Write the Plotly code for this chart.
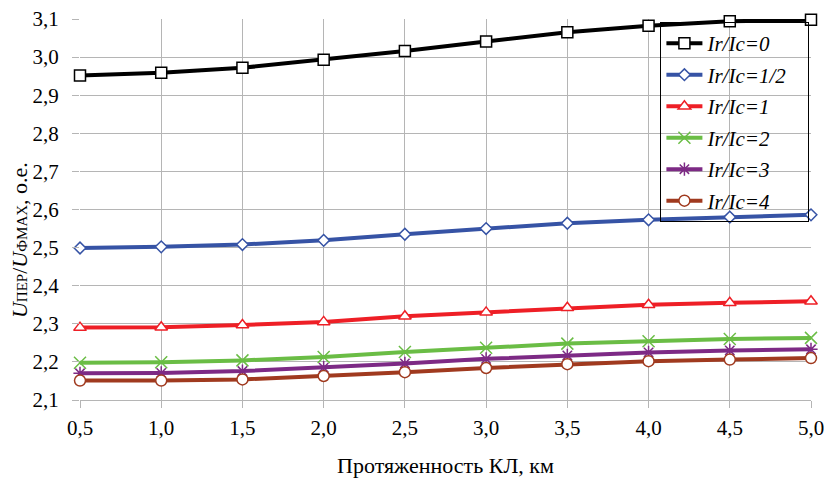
import plotly.graph_objects as go

x_km = [0.5, 1.0, 1.5, 2.0, 2.5, 3.0, 3.5, 4.0, 4.5, 5.0]
s_0 = [2.952, 2.959, 2.972, 2.993, 3.016, 3.041, 3.065, 3.082, 3.094, 3.098]
s_half = [2.499, 2.502, 2.508, 2.519, 2.535, 2.550, 2.564, 2.573, 2.580, 2.586]
s_1 = [2.290, 2.291, 2.297, 2.305, 2.320, 2.330, 2.342, 2.350, 2.355, 2.359]
s_2 = [2.198, 2.199, 2.204, 2.213, 2.226, 2.237, 2.248, 2.254, 2.260, 2.263]
s_3 = [2.170, 2.171, 2.176, 2.185, 2.196, 2.208, 2.217, 2.225, 2.230, 2.233]
s_4 = [2.151, 2.151, 2.154, 2.163, 2.173, 2.184, 2.194, 2.202, 2.206, 2.210]
names = ["Ir/Ic=0", "Ir/Ic=1/2", "Ir/Ic=1", "Ir/Ic=2", "Ir/Ic=3", "Ir/Ic=4"]
x_ticks = [0.5, 1.0, 1.5, 2.0, 2.5, 3.0, 3.5, 4.0, 4.5, 5.0]
y_ticks = [2.1, 2.2, 2.3, 2.4, 2.5, 2.6, 2.7, 2.8, 2.9, 3.0, 3.1]

series = [s_0, s_half, s_1, s_2, s_3, s_4]
colors = ["#000000", "#3653a5", "#ee1f26", "#6abd45", "#7d2a85", "#a03a1f"]
symbols = ["square", "diamond", "triangle-up", "x-thin-open", "asterisk-open", "circle"]
sizes = [11, 9, 11, 12, 11, 11]

fig = go.Figure()
for ys, nm, c, sym, sz in zip(series, names, colors, symbols, sizes):
    marker = dict(symbol=sym, size=sz, color="white", line=dict(color=c, width=1.5))
    if sym in ("x-thin-open", "asterisk-open"):
        marker = dict(symbol=sym, size=sz, color=c, line=dict(color=c, width=1.5))
    fig.add_trace(go.Scatter(
        x=x_km, y=ys, mode="lines+markers",
        name="<i>" + nm + "</i>" + "&nbsp;" * 3,
        legendgroup=nm,
        line=dict(color=c, width=4), marker=marker, cliponaxis=False,
    ))

font = "Liberation Serif"
fig.update_layout(
    width=824, height=478,
    margin=dict(l=80, r=13, t=19, b=78),
    paper_bgcolor="white", plot_bgcolor="white",
    separators=", ",
    font=dict(family=font, size=21, color="black"),
    showlegend=True,
    legend=dict(
        x=0.794, y=0.992, xanchor="left", yanchor="top",
        bgcolor="rgba(255,255,255,0)", bordercolor="black", borderwidth=1,
        font=dict(family=font, size=21),
        tracegroupgap=1.2, itemwidth=36,
    ),
    xaxis=dict(
        range=[0.5, 5.0], tickvals=x_ticks, tickformat=".1f",
        showgrid=True, gridcolor="#b5b5b5", gridwidth=1,
        ticks="outside", ticklen=7, tickcolor="#b5b5b5",
        showline=True, linecolor="#b5b5b5", zeroline=False,
        automargin=False, ticklabelstandoff=2, ticklabeloverflow="allow",
        title=dict(text="Протяженность КЛ, км", font=dict(size=22), standoff=20),
    ),
    yaxis=dict(
        range=[2.1, 3.1], tickvals=y_ticks, tickformat=".1f",
        showgrid=True, gridcolor="#b5b5b5", gridwidth=1,
        ticks="outside", ticklen=7, tickcolor="#b5b5b5",
        showline=False, zeroline=False, automargin=False,
        ticklabelstandoff=9, ticklabeloverflow="allow",
    ),
    annotations=[dict(
        text="<i>U</i><span style='font-size:15px'>ПЕР</span>/<i>U</i><span style='font-size:15px'>ФMAX</span>, о.е.",
        xref="paper", yref="paper", x=-0.082, y=0.42,
        xanchor="center", yanchor="middle", textangle=-90,
        showarrow=False, font=dict(family=font, size=22),
    )],
)
fig.write_html("out.html")
